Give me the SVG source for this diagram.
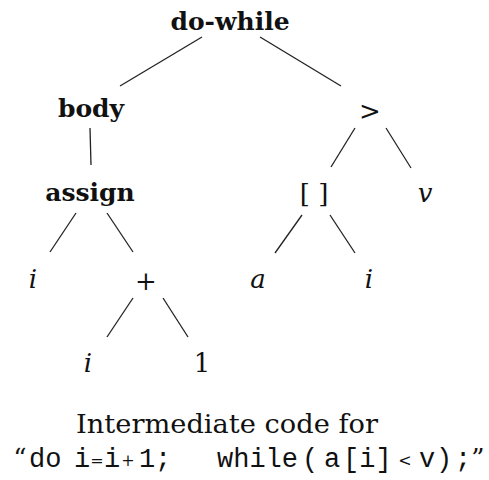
<svg xmlns="http://www.w3.org/2000/svg" width="489" height="480" viewBox="0 0 489 480">
<style>
.b{font-family:"DejaVu Serif",serif;font-weight:bold;font-size:25px;fill:#111;text-anchor:middle}
.m{font-family:"DejaVu Serif",serif;font-style:italic;font-size:26px;fill:#111;text-anchor:middle}
.r{font-family:"DejaVu Serif",serif;font-size:26px;fill:#111;text-anchor:middle}
.s{font-family:"DejaVu Serif",serif;font-size:16px;fill:#111;text-anchor:middle}
.c{font-family:"Liberation Mono","DejaVu Sans Mono",monospace;font-size:27px;fill:#111}
.e line{stroke:#222;stroke-width:1.3}
</style>
<rect width="489" height="480" fill="#fff"/>
<g class="e" id="edges">
<line x1="202" y1="37" x2="120" y2="86"/>
<line x1="260" y1="37" x2="341" y2="86"/>
<line x1="90" y1="128" x2="91" y2="165"/>
<line x1="355" y1="128" x2="331" y2="167"/>
<line x1="386" y1="128" x2="411" y2="168"/>
<line x1="76" y1="213" x2="50" y2="252"/>
<line x1="107" y1="213" x2="133" y2="252"/>
<line x1="302" y1="215" x2="275" y2="253"/>
<line x1="330" y1="215" x2="355" y2="253"/>
<line x1="133" y1="298" x2="107" y2="337"/>
<line x1="163" y1="298" x2="188" y2="337"/>
</g>
<g id="n-dowhile"><text class="b" x="230" y="30">do-while</text></g>
<g id="n-body"><text class="b" x="91" y="117">body</text></g>
<g id="n-gt"><text class="r" x="370" y="120">&gt;</text></g>
<g id="n-assign"><text class="b" x="90" y="201">assign</text></g>
<g id="n-index"><text class="r" x="314" y="203">[ ]</text></g>
<g id="n-v"><text class="m" x="425" y="202">v</text></g>
<g id="n-i1"><text class="m" x="33" y="288">i</text></g>
<g id="n-plus"><text class="r" x="146" y="290">+</text></g>
<g id="n-a"><text class="m" x="258" y="288">a</text></g>
<g id="n-i2"><text class="m" x="369" y="288">i</text></g>
<g id="n-i3"><text class="m" x="88" y="372">i</text></g>
<g id="n-1"><text class="r" x="202" y="372">1</text></g>
<g id="caption">
<text class="r" x="227" y="433" textLength="302" lengthAdjust="spacingAndGlyphs">Intermediate code for</text>
<text class="r" x="20" y="467">“</text>
<text class="c" x="29" y="467">do</text>
<text class="c" x="82" y="467" text-anchor="middle">i</text>
<text class="s" x="97" y="466">=</text>
<text class="c" x="112" y="467" text-anchor="middle">i</text>
<text class="s" x="128" y="466">+</text>
<text class="c" x="147" y="467" text-anchor="middle">1</text>
<text class="c" x="163" y="467" text-anchor="middle">;</text>
<text class="c" x="217" y="467">while</text>
<text class="c" x="310" y="467" text-anchor="middle">(</text>
<text class="c" x="332" y="467" text-anchor="middle">a</text>
<text class="c" x="343" y="467">[i]</text>
<text class="s" x="405" y="466">&lt;</text>
<text class="c" x="427" y="467" text-anchor="middle">v</text>
<text class="c" x="444" y="467" text-anchor="middle">)</text>
<text class="c" x="463" y="467" text-anchor="middle">;</text>
<text class="r" x="478" y="467">”</text>
</g>
</svg>
